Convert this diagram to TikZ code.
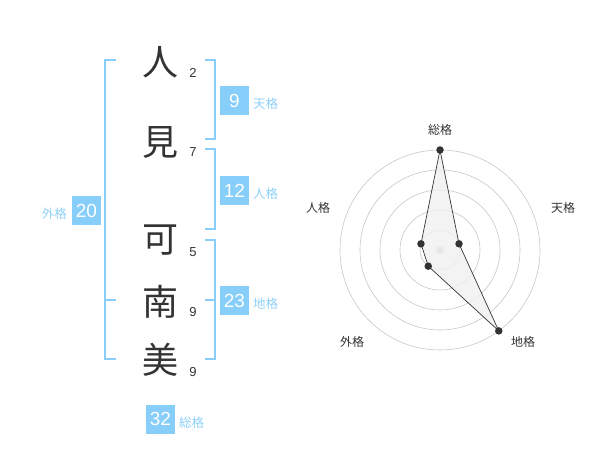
\documentclass[tikz,border=0pt]{standalone}
\usepackage{fontspec}
\setmainfont{Liberation Sans}
\newfontfamily\jp{Noto Sans CJK JP}
\usepackage{xcolor}

\definecolor{kaku}{HTML}{87CEFA}
\definecolor{kakutext}{HTML}{8DD0F8}
\definecolor{ink}{HTML}{333333}

\tikzset{
    moji/.style={text=ink, inner sep=0pt, font=\jp\fontsize{36}{36}\selectfont},
    kaku/.style={text=ink, inner sep=0pt, font=\fontsize{13}{13}\selectfont},
    bracket/.style={draw=kaku, line width=2pt},
    score/.style={fill=kaku, text=white, minimum size=29pt, inner sep=0pt, font=\fontsize{19}{19}\selectfont},
    tag/.style={text=kakutext, inner sep=0pt, font=\jp\fontsize{12.5}{12.5}\selectfont},
    axis/.style={text=ink, inner sep=0pt, font=\jp\fontsize{12}{12}\selectfont},
    dot/.style={circle, fill=ink, inner sep=0pt, minimum size=7.5pt}
}

\begin{document}
\begin{tikzpicture}[x=1pt, y=-1pt]
    \useasboundingbox (0,0) rectangle (600,470);

    \node[moji] (c1) at (160,62) {人};
    \node[moji] (c2) at (160,142) {見};
    \node[moji] (c3) at (160,240) {可};
    \node[moji] (c4) at (160,302) {南};
    \node[moji] (c5) at (160,360) {美};

    \node[kaku] (n1) at (193,72.5) {2};
    \node[kaku] (n2) at (193,152.5) {7};
    \node[kaku] (n3) at (193,252.5) {5};
    \node[kaku] (n4) at (193,312.5) {9};
    \node[kaku] (n5) at (193,372.5) {9};

    \draw[bracket] (116,60) -- (105,60) -- (105,359) -- (116,359);
    \draw[bracket] (105,300) -- (116,300);
    \draw[bracket] (205,60) -- (215,60) -- (215,139) -- (205,139);
    \draw[bracket] (205,149) -- (215,149) -- (215,229) -- (205,229);
    \draw[bracket] (205,240) -- (215,240) -- (215,359) -- (205,359);
    \draw[bracket] (215,300) -- (205,300);

    \node[score] (ten) at (234.5,100.5) {9};
    \node[tag, anchor=west] (tenl) at (253,104) {天格};
    \node[score] (jin) at (234.5,190.5) {12};
    \node[tag, anchor=west] (jinl) at (253,194) {人格};
    \node[score] (chi) at (234.5,300.5) {23};
    \node[tag, anchor=west] (chil) at (253,304) {地格};
    \node[score] (gai) at (86.5,210.5) {20};
    \node[tag, anchor=east] (gail) at (67,214) {外格};
    \node[score] (sou) at (160.5,419) {32};
    \node[tag, anchor=west] (soul) at (179,423) {総格};

    % radar
    \begin{scope}[shift={(440,250)}, x=1pt, y=1pt]
        \foreach \r in {20,40,60,80,100}
            \draw[black!22, line width=0.6pt] (0,0) circle (\r);
        \fill[black!22] (0,0) circle (3.5);

        \coordinate (p1) at (90:100);
        \coordinate (p2) at (18:20);
        \coordinate (p3) at (-54:100);
        \coordinate (p4) at (-126:20);
        \coordinate (p5) at (162:20);

        \draw[fill=black!6, fill opacity=0.8, draw=ink, line width=0.7pt]
            (p1) -- (p2) -- (p3) -- (p4) -- (p5) -- cycle;
        \foreach \p in {p1,p2,p3,p4,p5}
            \node[dot] at (\p) {};
    \end{scope}

    \node[axis] (a1) at (440,130) {総格};
    \node[axis] (a2) at (563,208) {天格};
    \node[axis] (a3) at (523,342) {地格};
    \node[axis] (a4) at (352,342) {外格};
    \node[axis] (a5) at (318,208) {人格};
\end{tikzpicture}
\end{document}
